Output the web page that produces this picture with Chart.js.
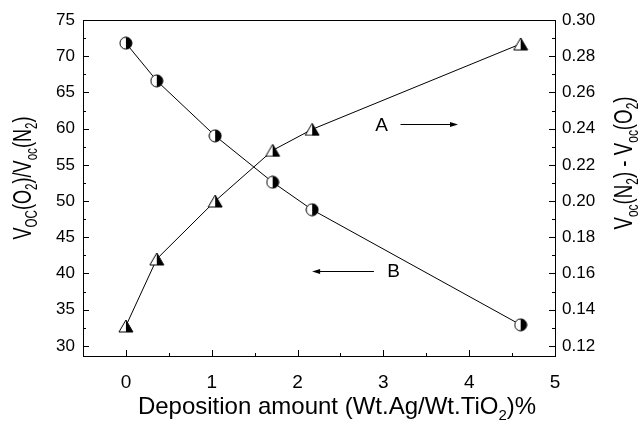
<!DOCTYPE html>
<html>
<head>
<meta charset="utf-8">
<script src="https://cdn.jsdelivr.net/npm/chart.js@4/dist/chart.umd.min.js"></script>
<style>
  html, body { margin: 0; padding: 0; background: #fff; }
  #wrap { width: 641px; height: 427px; }
</style>
</head>
<body>
<div id="wrap"><canvas id="chart" width="641" height="427"></canvas></div>
<script>
// data
var depositionAmount = [0, 0.36, 1.04, 1.71, 2.17, 4.6];
var vocRatio = [71.8, 66.6, 59.0, 52.6, 48.8, 32.9];          // B, left axis
var vocDifference = [0.131, 0.168, 0.200, 0.228, 0.2396, 0.2868]; // A, right axis

var xTicks = [0, 1, 2, 3, 4, 5];
var leftTicks = [30, 35, 40, 45, 50, 55, 60, 65, 70, 75];
var rightTicks = [0.12, 0.14, 0.16, 0.18, 0.20, 0.22, 0.24, 0.26, 0.28, 0.30];

var FONT = '"Liberation Sans", Arial, sans-serif';

function makeHalfCircle(r) {
    var c = document.createElement('canvas');
    var s = Math.ceil(r * 2 + 2);
    c.width = s; c.height = s;
    var g = c.getContext('2d');
    var m = s / 2;
    g.fillStyle = '#fff';
    g.beginPath(); g.arc(m, m, r, 0, Math.PI * 2); g.fill();
    g.fillStyle = '#000';
    g.beginPath(); g.moveTo(m, m - r); g.arc(m, m, r, -Math.PI / 2, Math.PI / 2); g.closePath(); g.fill();
    g.strokeStyle = '#000'; g.lineWidth = 1;
    g.beginPath(); g.arc(m, m, r, 0, Math.PI * 2); g.stroke();
    return c;
}

function makeHalfTriangle(w, h) {
    var c = document.createElement('canvas');
    c.width = Math.ceil(w + 2); c.height = Math.ceil(h + 2);
    var g = c.getContext('2d');
    var cx = c.width / 2, top = 1, bot = h + 1;
    g.fillStyle = '#fff';
    g.beginPath(); g.moveTo(cx, top); g.lineTo(cx + w / 2, bot); g.lineTo(cx - w / 2, bot); g.closePath(); g.fill();
    g.fillStyle = '#000';
    g.beginPath(); g.moveTo(cx, top); g.lineTo(cx + w / 2, bot); g.lineTo(cx, bot); g.closePath(); g.fill();
    g.strokeStyle = '#000'; g.lineWidth = 1;
    g.beginPath(); g.moveTo(cx, top); g.lineTo(cx + w / 2, bot); g.lineTo(cx - w / 2, bot); g.closePath(); g.stroke();
    return c;
}

// draws text with subscripts, parts = [[text, isSub], ...]; squeezed to fit length if given
function drawRich(ctx, parts, x, y, size, angle, length) {
    var subSize = Math.round(size * 0.62);
    var total = 0;
    parts.forEach(function (p) {
        ctx.font = (p[1] ? subSize : size) + 'px ' + FONT;
        total += ctx.measureText(p[0]).width;
    });
    var k = length ? length / total : 1;
    ctx.save();
    ctx.translate(x, y);
    ctx.rotate(angle);
    ctx.scale(k, 1);
    ctx.fillStyle = '#000';
    ctx.textBaseline = 'middle';
    ctx.textAlign = 'left';
    var pos = -total / 2;
    parts.forEach(function (p) {
        ctx.font = (p[1] ? subSize : size) + 'px ' + FONT;
        ctx.fillText(p[0], pos, p[1] ? size * 0.36 : 0);
        pos += ctx.measureText(p[0]).width;
    });
    ctx.restore();
}

function arrow(ctx, x1, x2, y) {
    var dir = x2 > x1 ? 1 : -1;
    ctx.beginPath(); ctx.moveTo(x1, y); ctx.lineTo(x2 - dir * 6, y); ctx.stroke();
    ctx.beginPath(); ctx.moveTo(x2, y); ctx.lineTo(x2 - dir * 8, y - 2.5); ctx.lineTo(x2 - dir * 8, y + 2.5); ctx.closePath(); ctx.fill();
}

var framePlugin = {
    id: 'frame',
    afterDatasetsDraw: function (chart) {
        var ctx = chart.ctx, a = chart.chartArea;
        var sx = chart.scales.x, sy = chart.scales.y, sy1 = chart.scales.y1;
        ctx.save();
        ctx.strokeStyle = '#000'; ctx.fillStyle = '#000'; ctx.lineWidth = 1;
        ctx.strokeRect(Math.round(a.left) + 0.5, Math.round(a.top) + 0.5, Math.round(a.right - a.left), Math.round(a.bottom - a.top));
        ctx.beginPath();
        // x ticks (inward), minor every 0.5
        for (var v = -0.5; v <= 5.001; v += 0.5) {
            var px = Math.round(sx.getPixelForValue(v)) + 0.5;
            var major = Math.abs(v - Math.round(v)) < 1e-6;
            ctx.moveTo(px, a.bottom); ctx.lineTo(px, a.bottom - (major ? 6 : 3));
        }
        for (var l = 27.5; l <= 75.001; l += 2.5) {
            if (l < sy.min) continue;
            var py = Math.round(sy.getPixelForValue(l)) + 0.5;
            var maj = Math.abs(l / 5 - Math.round(l / 5)) < 1e-6;
            ctx.moveTo(a.left, py); ctx.lineTo(a.left + (maj ? 6 : 3), py);
        }
        for (var r = 0.12; r <= 0.3001; r += 0.01) {
            var pr = Math.round(sy1.getPixelForValue(r)) + 0.5;
            var mj = Math.abs(r / 0.02 - Math.round(r / 0.02)) < 1e-6;
            ctx.moveTo(a.right, pr); ctx.lineTo(a.right - (mj ? 6 : 3), pr);
        }
        ctx.stroke();

        // labels A / B with arrows
        ctx.font = '19px ' + FONT;
        ctx.textBaseline = 'middle'; ctx.textAlign = 'center';
        ctx.fillText('A', sx.getPixelForValue(2.98), sy.getPixelForValue(60.4));
        arrow(ctx, sx.getPixelForValue(3.2), sx.getPixelForValue(3.87), Math.round(sy.getPixelForValue(60.6)) + 0.5);
        ctx.fillText('B', sx.getPixelForValue(3.12), sy.getPixelForValue(40.2));
        arrow(ctx, sx.getPixelForValue(2.89), sx.getPixelForValue(2.17), Math.round(sy.getPixelForValue(40.4)) + 0.5);

        // axis titles
        drawRich(ctx, [['Deposition amount (Wt.Ag/Wt.TiO', 0], ['2', 1], [')%', 0]], 337, 407, 24, 0);
        drawRich(ctx, [['V', 0], ['OC', 1], ['(O', 0], ['2', 1], [')/V', 0], ['oc', 1], ['(N', 0], ['2', 1], [')', 0]], 24, 178, 25, -Math.PI / 2, 123);
        drawRich(ctx, [['V', 0], ['oc', 1], ['(N', 0], ['2', 1], [') - V', 0], ['oc', 1], ['(O', 0], ['2', 1], [')', 0]], 625, 163, 25, -Math.PI / 2, 133);
        ctx.restore();
    }
};

new Chart(document.getElementById('chart'), {
    type: 'line',
    data: {
        datasets: [{
            label: 'B',
            data: depositionAmount.map(function (x, i) { return { x: x, y: vocRatio[i] }; }),
            yAxisID: 'y',
            borderColor: '#000',
            borderWidth: 1,
            pointStyle: makeHalfCircle(6),
            tension: 0
        }, {
            label: 'A',
            data: depositionAmount.map(function (x, i) { return { x: x, y: vocDifference[i] }; }),
            yAxisID: 'y1',
            borderColor: '#000',
            borderWidth: 1,
            pointStyle: makeHalfTriangle(14, 12),
            tension: 0
        }]
    },
    options: {
        responsive: false,
        animation: false,
        layout: { padding: { top: 20, left: 0, right: 0, bottom: 0 } },
        plugins: { legend: { display: false }, tooltip: { enabled: false } },
        scales: {
            x: {
                type: 'linear', min: -0.5, max: 5.0,
                afterBuildTicks: function (s) { s.ticks = xTicks.map(function (v) { return { value: v }; }); },
                afterFit: function (s) { s.height = 71; },
                grid: { display: false, drawTicks: false, tickLength: 0 },
                border: { display: false },
                ticks: { color: '#000', font: { family: FONT, size: 19 }, padding: 15, maxRotation: 0 }
            },
            y: {
                type: 'linear', position: 'left', min: 28.6, max: 75,
                afterBuildTicks: function (s) { s.ticks = leftTicks.map(function (v) { return { value: v }; }); },
                afterFit: function (s) { s.width = 83; },
                grid: { display: false, drawTicks: false, tickLength: 0 },
                border: { display: false },
                ticks: { color: '#000', font: { family: FONT, size: 17 }, padding: 8 }
            },
            y1: {
                type: 'linear', position: 'right', min: 0.1144, max: 0.30,
                afterBuildTicks: function (s) { s.ticks = rightTicks.map(function (v) { return { value: v }; }); },
                afterFit: function (s) { s.width = 86; },
                grid: { display: false, drawTicks: false, tickLength: 0 },
                border: { display: false },
                ticks: {
                    color: '#000', font: { family: FONT, size: 17 }, padding: 7,
                    callback: function (v) { return v.toFixed(2); }
                }
            }
        }
    },
    plugins: [framePlugin]
});
</script>
</body>
</html>
